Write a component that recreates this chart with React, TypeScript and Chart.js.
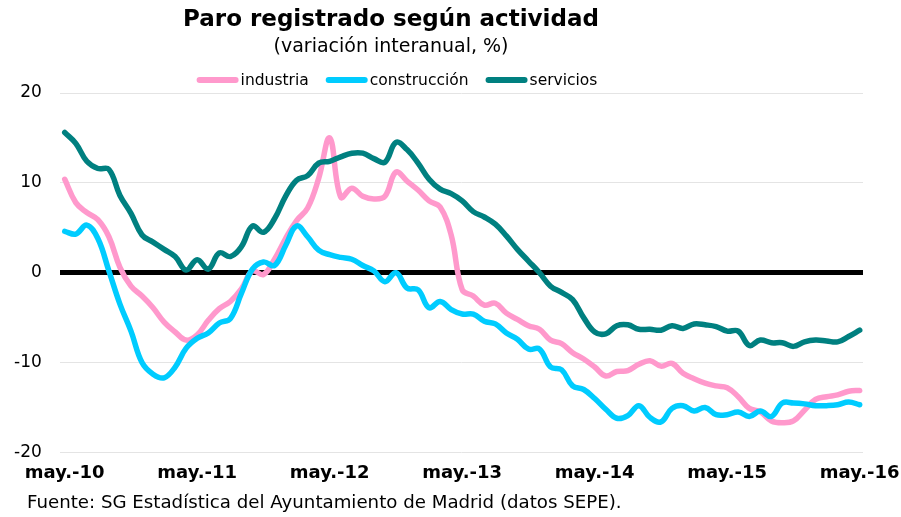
import React, { useEffect, useRef } from "react";
import { Chart, registerables } from "chart.js";

Chart.register(...registerables);

const FONT = "'DejaVu Sans', Verdana, sans-serif";

const monthAbbr = ["ene.", "feb.", "mar.", "abr.", "may.", "jun.", "jul.", "ago.", "sep.", "oct.", "nov.", "dic."];
const categories: string[] = Array.from({ length: 73 }, (_, i) => {
  const m = (4 + i) % 12;
  const y = 10 + Math.floor((4 + i) / 12);
  return `${monthAbbr[m]}-${y}`;
});

const xTickLabels = ["may.-10", "may.-11", "may.-12", "may.-13", "may.-14", "may.-15", "may.-16"];
const yTickValues = [-20, -10, 0, 10, 20];

const industria = [
  10.4, 7.8, 6.7, 5.9, 4.0, 0.6, -1.5, -2.6, -3.9, -5.5, -6.6, -7.5,
  -6.9, -5.3, -4.0, -3.2, -1.8, 0.2, -0.2, 1.5, 3.8, 5.8, 7.2, 10.5,
  15.0, 8.4, 9.4, 8.5, 8.2, 8.5, 11.2, 10.2, 9.2, 8.0, 7.3, 4.2,
  -1.9, -2.6, -3.6, -3.4, -4.5, -5.2, -5.9, -6.3, -7.5, -7.9, -8.9, -9.6,
  -10.5, -11.5, -11.0, -10.9, -10.2, -9.8, -10.4, -10.1, -11.2, -11.8, -12.3, -12.6,
  -12.8, -13.8, -15.1, -15.5, -16.5, -16.7, -16.5, -15.3, -14.1, -13.8, -13.6, -13.2,
  -13.1,
];

const construccion = [
  4.6, 4.3, 5.3, 3.8, 0.2, -3.5, -6.5, -10.0, -11.3, -11.7, -10.5, -8.4,
  -7.3, -6.7, -5.6, -5.1, -2.3, 0.4, 1.2, 0.8, 3.0, 5.2, 4.0, 2.5,
  2.0, 1.7, 1.5, 0.8, 0.2, -1.0, 0.0, -1.7, -1.9, -3.9, -3.2, -4.1,
  -4.6, -4.6, -5.4, -5.7, -6.7, -7.4, -8.5, -8.5, -10.5, -10.8, -12.6, -13.0,
  -14.0, -15.2, -16.2, -15.9, -14.8, -16.1, -16.6, -15.1, -14.8, -15.4, -15.0, -15.8,
  -15.8, -15.5, -16.0, -15.4, -16.0, -14.5, -14.5, -14.6, -14.8, -14.8, -14.7, -14.4,
  -14.7,
];

const servicios = [
  15.6, 14.4, 12.4, 11.6, 11.5, 8.6, 6.6, 4.2, 3.4, 2.6, 1.8, 0.3,
  1.45, 0.4, 2.2, 1.8, 2.9, 5.2, 4.5, 6.0, 8.5, 10.3, 10.8, 12.2,
  12.4, 12.9, 13.3, 13.3, 12.7, 12.3, 14.5, 13.7, 12.2, 10.4, 9.3, 8.8,
  8.0, 6.8, 6.2, 5.4, 4.1, 2.6, 1.3, 0.0, -1.5, -2.2, -3.0, -5.0,
  -6.6, -6.8, -5.9, -5.8, -6.3, -6.3, -6.4, -5.9, -6.2, -5.7, -5.8, -6.0,
  -6.5, -6.5, -8.1, -7.5, -7.8, -7.8, -8.2, -7.7, -7.5, -7.6, -7.7, -7.1,
  -6.4,
];

const seriesNames = ["industria", "construcción", "servicios"];
const seriesColors = ["#FF99CC", "#00CCFF", "#008080"];
const seriesValues = [industria, construccion, servicios];

const titleText = "Paro registrado según actividad";
const subtitleText = "(variación interanual, %)";
const sourceText = "Fuente: SG Estadística del Ayuntamiento de Madrid (datos SEPE).";

const headerPlugin = {
  id: "header",
  afterDraw(chart: any) {
    const ctx: CanvasRenderingContext2D = chart.ctx;
    ctx.save();
    ctx.fillStyle = "#000";
    ctx.textAlign = "center";
    ctx.textBaseline = "middle";
    ctx.font = `bold 23px ${FONT}`;
    ctx.fillText(titleText, 391, 20);
    ctx.font = `19px ${FONT}`;
    ctx.fillText(subtitleText, 391, 47);

    ctx.font = `15.5px ${FONT}`;
    const sw = 42, sh = 6, gapText = 2, gapItem = 17;
    const widths = seriesNames.map((n) => ctx.measureText(n).width);
    const total = widths.reduce((a, w) => a + sw + gapText + w, 0) + gapItem * (seriesNames.length - 1);
    let x = 397 - total / 2;
    const ly = 80;
    ctx.textAlign = "left";
    seriesNames.forEach((n, i) => {
      const ds = chart.data.datasets[i];
      ctx.fillStyle = ds.borderColor;
      ctx.beginPath();
      (ctx as any).roundRect(x, ly - sh / 2, sw, sh, sh / 2);
      ctx.fill();
      ctx.fillStyle = "#000";
      ctx.fillText(n, x + sw + gapText, ly + 1);
      x += sw + gapText + widths[i] + gapItem;
    });

    ctx.font = `18.2px ${FONT}`;
    ctx.textAlign = "left";
    ctx.fillText(sourceText, 27, 503);
    ctx.restore();
  },
};

export default function App() {
  const ref = useRef<HTMLCanvasElement | null>(null);

  useEffect(() => {
    if (!ref.current) return;
    Chart.defaults.font.family = FONT;
    const chart = new Chart(ref.current, {
      type: "line",
      data: {
        datasets: seriesValues.map((vals, si) => ({
          label: seriesNames[si],
          data: vals.map((v, i) => ({ x: i, y: v })),
          borderColor: seriesColors[si],
          backgroundColor: seriesColors[si],
          borderWidth: 5.5,
          pointRadius: 0,
          pointHoverRadius: 0,
          tension: 0.4,
          fill: false,
          borderCapStyle: "round" as const,
          borderJoinStyle: "round" as const,
          order: 3 - si,
        })),
      },
      options: {
        animation: false,
        responsive: false,
        devicePixelRatio: 1,
        layout: { padding: { left: 14, right: 38, top: 93, bottom: 33 } },
        plugins: {
          legend: { display: false },
          title: { display: false },
          tooltip: { enabled: false },
        },
        scales: {
          x: {
            type: "linear",
            min: -0.45,
            max: 72.3,
            grid: { display: false, drawTicks: true, tickLength: 10 },
            border: { display: false },
            afterBuildTicks: (scale: any) => {
              scale.ticks = xTickLabels.map((l) => ({ value: categories.indexOf(l) }));
            },
            afterFit: (scale: any) => {
              scale.paddingLeft = 0;
              scale.paddingRight = 0;
            },
            ticks: {
              autoSkip: false,
              maxRotation: 0,
              padding: 0,
              color: "#000",
              font: { size: 18, weight: "bold" },
              callback: (v: any) => categories[Number(v)] ?? "",
            },
          },
          y: {
            min: -20,
            max: 20,
            afterBuildTicks: (scale: any) => {
              scale.ticks = yTickValues.map((v) => ({ value: v }));
            },
            afterFit: (scale: any) => {
              scale.width = scale.width - scale.options.ticks.padding;
            },
            border: { display: false },
            grid: {
              drawTicks: false,
              color: (c: any) => (c.tick && c.tick.value === 0 ? "#000000" : "#e4e4e4"),
              lineWidth: (c: any) => (c.tick && c.tick.value === 0 ? 5 : 1),
            },
            ticks: {
              padding: 18,
              color: "#000",
              font: { size: 17 },
            },
          },
        },
      },
      plugins: [headerPlugin],
    } as any);
    return () => chart.destroy();
  }, []);

  return (
    <div style={{ position: "absolute", left: 0, top: 0, width: 901, height: 517, background: "#fff" }}>
      <canvas ref={ref} width={901} height={517} style={{ display: "block" }} />
    </div>
  );
}
